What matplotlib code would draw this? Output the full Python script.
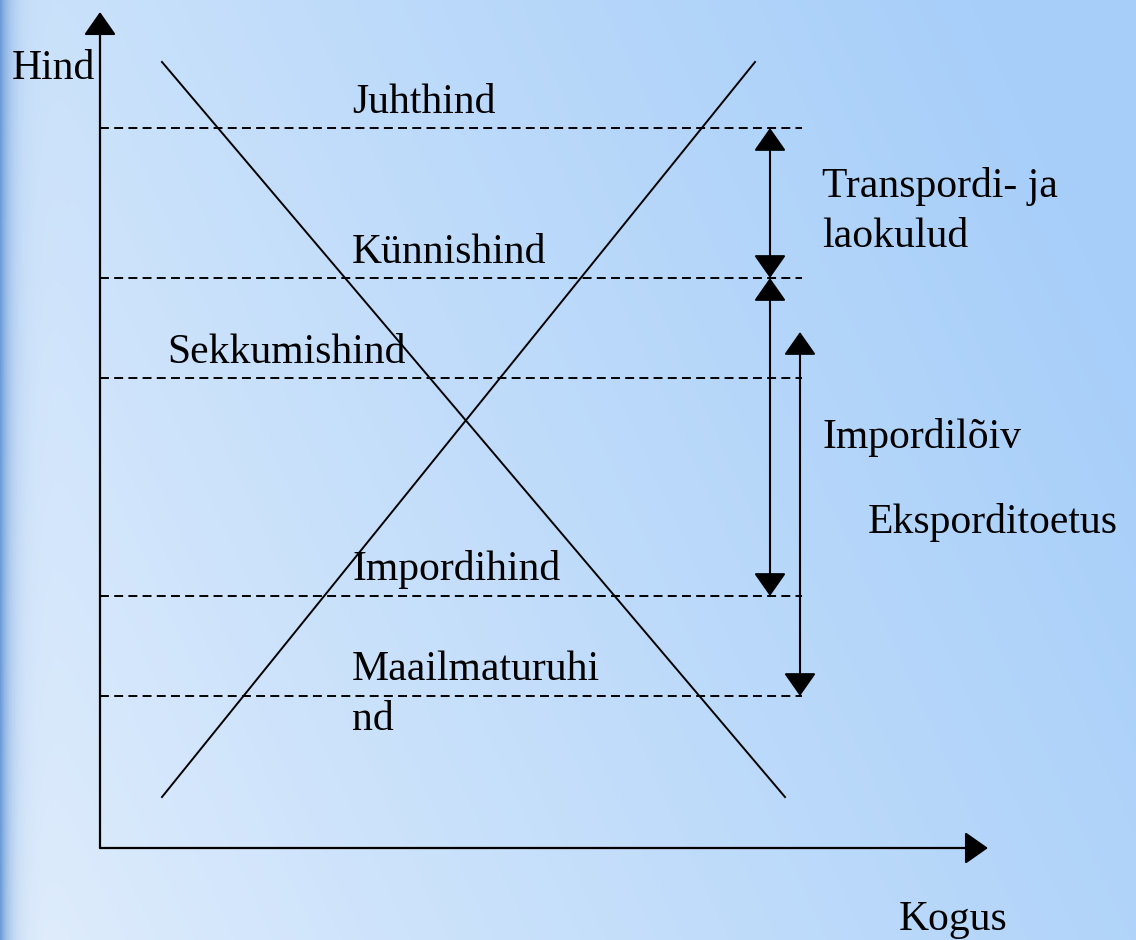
import numpy as np
import matplotlib
matplotlib.use("Agg")
import matplotlib.pyplot as plt
from matplotlib.colors import to_rgb

# price levels (schematic units, origin at axis corner)
level_names = ["Juhthind", "Künnishind", "Sekkumishind", "Impordihind", "Maailmaturuhind"]
level_prices = [72.0, 57.0, 47.0, 25.2, 15.2]
level_end_q = 70.2

# demand and supply curves (quantity, price)
demand_q = [6.2, 68.5]
demand_p = [78.6, 5.1]
supply_q = [6.2, 65.5]
supply_p = [5.1, 78.6]

# axis extents
q_max = 88.8
p_max = 83.6

# bracket arrows: (quantity, low price, high price)
brackets = [(67.0, 57.0, 72.0), (67.0, 25.2, 57.0), (70.0, 15.2, 51.6)]

# labels: (text, q, p)
labels = [
    ("Hind", -8.8, 76.9),
    ("Juhthind", 25.2, 73.5),
    ("Künnishind", 25.2, 58.5),
    ("Sekkumishind", 6.7, 48.5),
    ("Impordihind", 25.2, 26.8),
    ("Maailmaturuhi", 25.2, 16.8),
    ("nd", 25.2, 11.8),
    ("Transpordi- ja", 72.2, 65.1),
    ("laokulud", 72.2, 60.1),
    ("Impordilõiv", 72.2, 40.0),
    ("Eksporditoetus", 76.8, 31.5),
    ("Kogus", 79.9, -8.2),
]

W, H = 1136, 940
fig = plt.figure(figsize=(W / 100, H / 100), dpi=100)

# background gradient
bg = fig.add_axes([0, 0, 1, 1], zorder=0)
xx, yy = np.meshgrid(np.linspace(0, 1, W), np.linspace(0, 1, H))
t = np.clip(0.8 * xx + 0.3 * (1 - yy) - 0.02, 0, 1) ** 0.85
light = np.array(to_rgb("#e0edfc"))
dark = np.array(to_rgb("#a6cef9"))
img = light * (1 - t[..., None]) + dark * t[..., None]
edge = np.array(to_rgb("#6b9bd8"))
w = np.exp(-(xx * W) / 10.0)[..., None]
img = img * (1 - w) + edge * w
bg.imshow(img, aspect="auto", extent=[0, 1, 0, 1], origin="upper")
bg.axis("off")

ax = fig.add_axes([0, 0, 1, 1], zorder=1)
ax.patch.set_alpha(0)
ax.set_xlim(-10, 103.6)
ax.set_ylim(-9.2, 84.8)
ax.axis("off")

# axes with arrows
head = "-|>,head_length=0.4,head_width=0.28"
ax.annotate("", xy=(0, p_max), xytext=(0, 0),
            arrowprops=dict(arrowstyle=head, lw=1.6, color="black",
                            mutation_scale=36, shrinkA=0, shrinkB=0))
ax.annotate("", xy=(q_max, 0), xytext=(0, 0),
            arrowprops=dict(arrowstyle=head, lw=1.6, color="black",
                            mutation_scale=36, shrinkA=0, shrinkB=0))

# dashed price levels
for p in level_prices:
    ax.plot([0, level_end_q], [p, p], color="black", lw=1.4,
            linestyle=(0, (4.6, 2.7)))

# demand & supply
ax.plot(demand_q, demand_p, color="black", lw=1.4)
ax.plot(supply_q, supply_p, color="black", lw=1.4)

# bracket arrows
for q, lo, hi in brackets:
    ax.annotate("", xy=(q, hi), xytext=(q, lo),
                arrowprops=dict(arrowstyle="<|-|>,head_length=0.4,head_width=0.28",
                                lw=1.5, color="black", mutation_scale=36,
                                shrinkA=0, shrinkB=0))

for txt, q, p in labels:
    ax.text(q, p, txt, fontsize=30, family="Liberation Serif",
            va="baseline", ha="left", color="black")

fig.savefig("out.png", dpi=100)
